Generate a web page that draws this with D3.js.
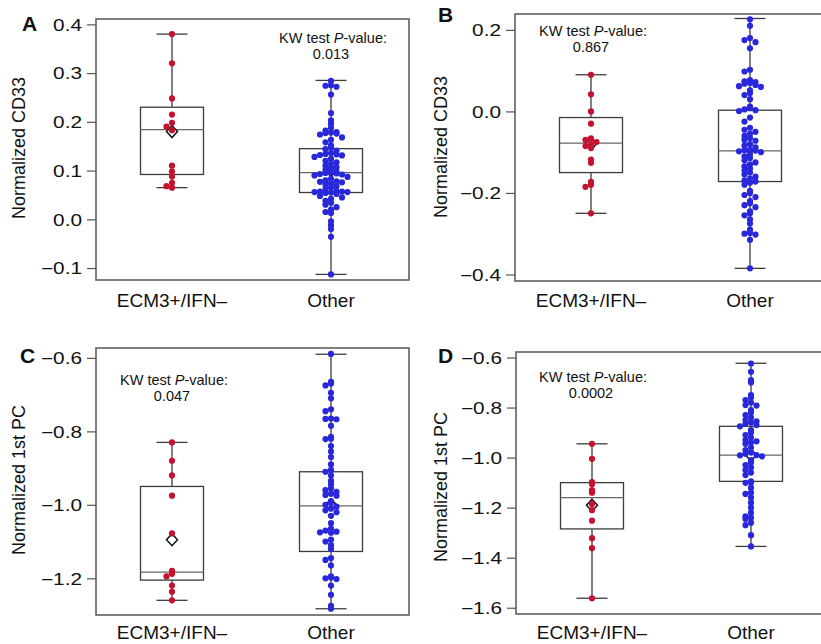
<!DOCTYPE html>
<html>
<head>
<meta charset="utf-8">
<script src="https://cdn.jsdelivr.net/npm/d3@7"></script>
<style>
  body { margin: 0; background: #fff; }
  text { font-family: Arial, "Liberation Sans", sans-serif; fill: #111; }
</style>
</head>
<body>
<svg id="fig" width="821" height="644"></svg>
<script>
// ---- data ----
const categories = ['ECM3+/IFN–', 'Other'];
const letters = ['A', 'B', 'C', 'D'];
const yTitles = ['Normalized CD33', 'Normalized CD33', 'Normalized 1st PC', 'Normalized 1st PC'];
const pValues = ['0.013', '0.867', '0.047', '0.0002'];

const ticksA = [-0.1, 0.0, 0.1, 0.2, 0.3, 0.4];
const ticksB = [-0.4, -0.2, 0.0, 0.2];
const ticksC = [-1.2, -1.0, -0.8, -0.6];
const ticksD = [-1.6, -1.4, -1.2, -1.0, -0.8, -0.6];

const ecmA = [0.38, 0.32, 0.248, 0.215, 0.198, 0.19, 0.183, 0.11, 0.098, 0.088, 0.075, 0.068, 0.065];
const otherA = [0.284, 0.275, 0.274, 0.272, 0.256, 0.218, 0.203, 0.196, 0.188, 0.182, 0.179, 0.178,
  0.177, 0.176, 0.174, 0.168, 0.163, 0.158, 0.152, 0.147, 0.144, 0.141, 0.136, 0.134, 0.133, 0.132,
  0.131, 0.128, 0.124, 0.12, 0.117, 0.114, 0.11, 0.107, 0.104, 0.101, 0.098, 0.096, 0.095, 0.094,
  0.093, 0.092, 0.09, 0.087, 0.083, 0.08, 0.078, 0.077, 0.076, 0.074, 0.071, 0.068, 0.065, 0.062,
  0.058, 0.057, 0.057, 0.056, 0.056, 0.055, 0.054, 0.052, 0.048, 0.045, 0.042, 0.038, 0.034, 0.03,
  0.025, 0.02, 0.015, 0.013, -0.004, -0.012, -0.02, -0.036, -0.113];

const ecmB = [0.09, 0.042, 0.0, -0.03, -0.066, -0.07, -0.075, -0.08, -0.085, -0.09, -0.118, -0.126,
  -0.173, -0.18, -0.185, -0.25];
const otherB = [0.226, 0.21, 0.18, 0.175, 0.17, 0.155, 0.102, 0.098, 0.077, 0.074, 0.072, 0.07, 0.068,
  0.065, 0.062, 0.06, 0.052, 0.045, 0.04, 0.03, 0.012, 0.008, 0.005, 0.003, 0.001, -0.015, -0.025,
  -0.04, -0.045, -0.05, -0.055, -0.06, -0.065, -0.07, -0.072, -0.08, -0.084, -0.088, -0.094, -0.095,
  -0.096, -0.098, -0.1, -0.105, -0.11, -0.114, -0.12, -0.125, -0.13, -0.135, -0.14, -0.145, -0.15,
  -0.155, -0.16, -0.165, -0.17, -0.172, -0.175, -0.18, -0.195, -0.2, -0.205, -0.21, -0.22, -0.225,
  -0.23, -0.235, -0.245, -0.25, -0.255, -0.265, -0.275, -0.29, -0.298, -0.3, -0.302, -0.315, -0.385];

const ecmC = [-0.83, -0.88, -0.92, -0.975, -1.078, -1.18, -1.188, -1.195, -1.22, -1.237, -1.26];
const otherC = [-0.589, -0.665, -0.67, -0.675, -0.695, -0.71, -0.74, -0.745, -0.765, -0.766, -0.767,
  -0.785, -0.815, -0.82, -0.821, -0.84, -0.855, -0.87, -0.89, -0.905, -0.91, -0.92, -0.935, -0.945,
  -0.955, -0.96, -0.965, -0.97, -0.973, -0.975, -0.99, -0.995, -1.0, -1.005, -1.01, -1.015, -1.02,
  -1.03, -1.05, -1.065, -1.07, -1.073, -1.075, -1.076, -1.095, -1.1, -1.11, -1.12, -1.145, -1.15,
  -1.165, -1.195, -1.198, -1.2, -1.202, -1.22, -1.245, -1.275, -1.283];

const ecmD = [-0.945, -1.005, -1.098, -1.105, -1.13, -1.14, -1.185, -1.21, -1.252, -1.322, -1.362, -1.562];
const otherD = [-0.624, -0.657, -0.69, -0.7, -0.75, -0.76, -0.77, -0.78, -0.79, -0.792, -0.81, -0.82,
  -0.83, -0.84, -0.85, -0.855, -0.86, -0.865, -0.87, -0.875, -0.89, -0.9, -0.91, -0.92, -0.93,
  -0.935, -0.94, -0.945, -0.96, -0.97, -0.98, -0.985, -0.99, -0.991, -0.995, -1.01, -1.02, -1.03,
  -1.04, -1.05, -1.06, -1.07, -1.095, -1.1, -1.101, -1.12, -1.14, -1.145, -1.16, -1.18, -1.2,
  -1.22, -1.235, -1.24, -1.245, -1.26, -1.27, -1.31, -1.355];

// box stats: [ECM3+/IFN-, Other]
const boxA = [{lo: 0.065, q1: 0.092, med: 0.184, q3: 0.230, hi: 0.38, mean: 0.18},
              {lo: -0.113, q1: 0.055, med: 0.096, q3: 0.145, hi: 0.285, mean: 0.10}];
const boxB = [{lo: -0.25, q1: -0.15, med: -0.078, q3: -0.015, hi: 0.09, mean: -0.08},
              {lo: -0.385, q1: -0.172, med: -0.097, q3: 0.003, hi: 0.228, mean: -0.09}];
const boxC = [{lo: -1.26, q1: -1.205, med: -1.183, q3: -0.95, hi: -0.83, mean: -1.095},
              {lo: -1.283, q1: -1.127, med: -1.003, q3: -0.91, hi: -0.59, mean: -1.0}];
const boxD = [{lo: -1.562, q1: -1.285, med: -1.16, q3: -1.1, hi: -0.945, mean: -1.19},
              {lo: -1.355, q1: -1.095, med: -0.99, q3: -0.875, hi: -0.623, mean: -0.99}];

const colors = ['#c41230', '#2828da'];

// ---- layout ----
const panels = [
  {pts: [ecmA, otherA], box: boxA, ticks: ticksA, frame: [96, 19, 409, 280], dom: [-0.1245, 0.411],
   letterXY: [22, 31], titleXY: [25, 148], kwXY: [333, 43], xLabY: 307},
  {pts: [ecmB, otherB], box: boxB, ticks: ticksB, frame: [515, 14, 830, 281], dom: [-0.416, 0.239],
   letterXY: [438, 22], titleXY: [447, 147], kwXY: [593, 36], xLabY: 307},
  {pts: [ecmC, otherC], box: boxC, ticks: ticksC, frame: [96, 348, 409, 615], dom: [-1.3, -0.573],
   letterXY: [20, 363], titleXY: [25, 480], kwXY: [174, 385], xLabY: 639},
  {pts: [ecmD, otherD], box: boxD, ticks: ticksD, frame: [516, 352, 830, 614], dom: [-1.625, -0.578],
   letterXY: [438, 363], titleXY: [447, 487], kwXY: [593, 382], xLabY: 639}
];

const svg = d3.select('#fig');
svg.append('rect').attr('width', 821).attr('height', 644).attr('fill', '#fff');

const r = 3.1;
const boxHalf = 31.5;
const capHalf = 15.5;

// centred beeswarm: bin by pixel row, first point on the axis, then alternate sides
function swarm(values, y) {
  let bins = d3.group(values, v => Math.round(y(v) / 5));
  let out = [];
  bins.forEach(vs => {
    vs.forEach((v, i) => {
      let k = Math.ceil(i / 2) * (i % 2 ? -1 : 1);
      out.push({v: v, dx: k * 5.5});
    });
  });
  return out;
}

panels.forEach((p, pi) => {
  let [x0, y0, x1, y1] = p.frame;
  let g = svg.append('g');

  let y = d3.scaleLinear().domain(p.dom).range([y1, y0]);
  let x = d3.scalePoint().domain(categories).range([x0 + 76, x0 + 235]);

  // frame
  g.append('rect')
    .attr('x', x0).attr('y', y0)
    .attr('width', x1 - x0).attr('height', y1 - y0)
    .attr('fill', 'none').attr('stroke', '#555').attr('stroke-width', 1.5);

  // y axis
  let yAxis = d3.axisLeft(y).tickValues(p.ticks).tickSize(9).tickSizeOuter(0)
    .tickFormat(d3.format('.1f'));
  let ax = g.append('g').attr('transform', `translate(${x0},0)`).call(yAxis);
  ax.select('.domain').remove();
  ax.selectAll('.tick line').attr('stroke', '#555').attr('stroke-width', 1.2);
  ax.selectAll('.tick text')
    .attr('x', null).attr('dy', '0.36em')
    .attr('transform', 'translate(-14,0) scale(1.3,1)')
    .style('font-size', '16px').attr('fill', '#111');

  // x labels
  categories.forEach(c => {
    g.append('text').attr('x', x(c)).attr('y', p.xLabY)
      .attr('text-anchor', 'middle').style('font-size', '19px').text(c);
  });

  // boxes
  p.box.forEach((b, i) => {
    let cx = x(categories[i]);
    let bg = g.append('g').attr('stroke', '#3c3c3c').attr('stroke-width', 1.3).attr('fill', 'none');
    bg.append('line').attr('x1', cx).attr('x2', cx).attr('y1', y(b.hi)).attr('y2', y(b.q3));
    bg.append('line').attr('x1', cx).attr('x2', cx).attr('y1', y(b.q1)).attr('y2', y(b.lo));
    bg.append('line').attr('x1', cx - capHalf).attr('x2', cx + capHalf).attr('y1', y(b.hi)).attr('y2', y(b.hi));
    bg.append('line').attr('x1', cx - capHalf).attr('x2', cx + capHalf).attr('y1', y(b.lo)).attr('y2', y(b.lo));
    bg.append('rect').attr('x', cx - boxHalf).attr('width', boxHalf * 2)
      .attr('y', y(b.q3)).attr('height', y(b.q1) - y(b.q3));
    bg.append('line').attr('x1', cx - boxHalf).attr('x2', cx + boxHalf)
      .attr('y1', y(b.med)).attr('y2', y(b.med)).attr('stroke', '#666');
    // mean diamond
    let my = y(b.mean);
    g.append('path')
      .attr('d', `M${cx},${my - 6}L${cx + 5.5},${my}L${cx},${my + 6}L${cx - 5.5},${my}Z`)
      .attr('fill', '#fff').attr('stroke', '#111').attr('stroke-width', 1.5);
  });

  // points
  p.pts.forEach((vals, i) => {
    let cx = x(categories[i]);
    g.append('g').selectAll('circle').data(swarm(vals, y)).join('circle')
      .attr('cx', d => cx + d.dx).attr('cy', d => y(d.v)).attr('r', r)
      .attr('fill', colors[i]);
  });

  // panel letter
  svg.append('text').attr('x', p.letterXY[0]).attr('y', p.letterXY[1])
    .style('font-size', '21px').style('font-weight', 'bold').text(letters[pi]);

  // y title
  svg.append('text')
    .attr('transform', `translate(${p.titleXY[0]},${p.titleXY[1]}) rotate(-90)`)
    .attr('text-anchor', 'middle').style('font-size', '18px').text(yTitles[pi]);

  // KW annotation
  let kw = svg.append('text').attr('x', p.kwXY[0]).attr('y', p.kwXY[1])
    .attr('text-anchor', 'middle').style('font-size', '14.5px');
  kw.append('tspan').text('KW test ');
  kw.append('tspan').style('font-style', 'italic').text('P');
  kw.append('tspan').text('-value:');
  svg.append('text').attr('x', p.kwXY[0] - 2).attr('y', p.kwXY[1] + 16)
    .attr('text-anchor', 'middle').style('font-size', '14.5px').text(pValues[pi]);
});
</script>
</body>
</html>
